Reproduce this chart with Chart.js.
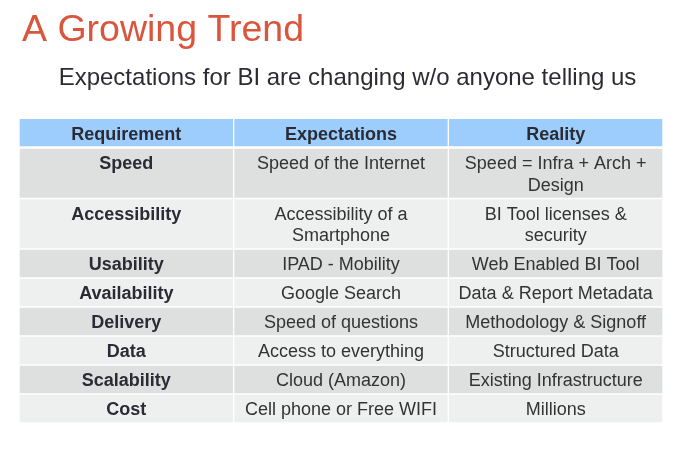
<!DOCTYPE html>
<html>
<head>
<meta charset="utf-8">
<script src="https://cdn.jsdelivr.net/npm/chart.js@4"></script>
<style>
  html, body { margin: 0; padding: 0; background: #fff; }
  #wrap { width: 682px; height: 455px; }
</style>
</head>
<body>
<div id="wrap"><canvas id="table"></canvas></div>
<script>
// table content
const titleText = 'A Growing Trend'
const subtitleText = 'Expectations for BI are changing w/o anyone telling us'
const columns = ['Requirement', 'Expectations', 'Reality']
const requirements = ['Speed', 'Accessibility', 'Usability', 'Availability', 'Delivery', 'Data', 'Scalability', 'Cost']
const expectations = [
    ['Speed of the Internet'],
    ['Accessibility of a', 'Smartphone'],
    ['IPAD - Mobility'],
    ['Google Search'],
    ['Speed of questions'],
    ['Access to everything'],
    ['Cloud (Amazon)'],
    ['Cell phone or Free WIFI']
]
const reality = [
    ['Speed = Infra + Arch +', 'Design'],
    ['BI Tool licenses &', 'security'],
    ['Web Enabled BI Tool'],
    ['Data & Report Metadata'],
    ['Methodology & Signoff'],
    ['Structured Data'],
    ['Existing Infrastructure'],
    ['Millions']
]

const lineUnit = 21.5
const padUnit = 7.5
const fontFamily = '"Liberation Sans", Arial, sans-serif'

// rows: header first, then body rows; each cell is a list of lines
const rows = [columns.map((c) => [c])].concat(
    requirements.map((r, i) => [[r], expectations[i], reality[i]])
)

// row extents on the y scale, from the number of lines in each row
const extents = []
let cursor = 0
rows.forEach((cells) => {
    const lines = Math.max(...cells.map((c) => c.length))
    const h = padUnit + lines * lineUnit
    extents.push([cursor, cursor + h])
    cursor += h
})
const total = cursor

const headerColor = '#9ccdfc'
const darkRow = '#dde0df'
const lightRow = '#eef0ef'

// slide heading, drawn in the space kept free by layout.padding.top
const heading = {
    id: 'heading',
    afterDraw(chart) {
        const { ctx } = chart
        ctx.save()
        ctx.textBaseline = 'alphabetic'
        ctx.textAlign = 'left'
        ctx.fillStyle = '#d9553b'
        ctx.font = '37.5px ' + fontFamily
        ctx.fillText(titleText, 22, 40.5)
        ctx.textAlign = 'center'
        ctx.fillStyle = '#2b2b33'
        ctx.font = '24px ' + fontFamily
        ctx.fillText(subtitleText, 347.5, 85)
        ctx.restore()
    }
}

const cellText = {
    id: 'cellText',
    afterDatasetsDraw(chart) {
        const { ctx, scales: { x, y } } = chart
        ctx.save()
        ctx.textAlign = 'center'
        ctx.textBaseline = 'alphabetic'
        rows.forEach((cells, i) => {
            const top = y.getPixelForValue(extents[i][0])
            cells.forEach((lines, j) => {
                const bold = i === 0 || j === 0
                ctx.font = (bold ? 'bold ' : '') + '18px ' + fontFamily
                ctx.fillStyle = bold ? '#2b2b36' : '#333333'
                lines.forEach((line, k) => {
                    ctx.fillText(line, x.getPixelForValue(j), top + 21 + k * lineUnit)
                })
            })
        })
        ctx.restore()
    }
}

const ctx = document.getElementById('table').getContext('2d')

new Chart(ctx, {
    type: 'bar',
    data: {
        labels: columns,
        datasets: rows.map((cells, i) => ({
            label: i === 0 ? 'Header' : requirements[i - 1],
            data: columns.map(() => extents[i]),
            backgroundColor: i === 0 ? headerColor : (i % 2 === 1 ? darkRow : lightRow),
            borderColor: '#ffffff',
            borderWidth: i === 0 ? { top: 0, left: 1, right: 1, bottom: 2 } : 1,
            borderSkipped: false,
            grouped: false,
            barPercentage: 1,
            categoryPercentage: 1
        }))
    },
    plugins: [cellText, heading],
    options: {
        responsive: true,
        maintainAspectRatio: false,
        animation: false,
        layout: {
            padding: { left: 19, right: 19, top: 119, bottom: 32 }
        },
        scales: {
            x: { display: false },
            y: { display: false, reverse: true, min: 0, max: total }
        },
        plugins: {
            legend: { display: false },
            tooltip: { enabled: false },
            title: { display: false },
            subtitle: { display: false }
        }
    }
})
</script>
</body>
</html>
